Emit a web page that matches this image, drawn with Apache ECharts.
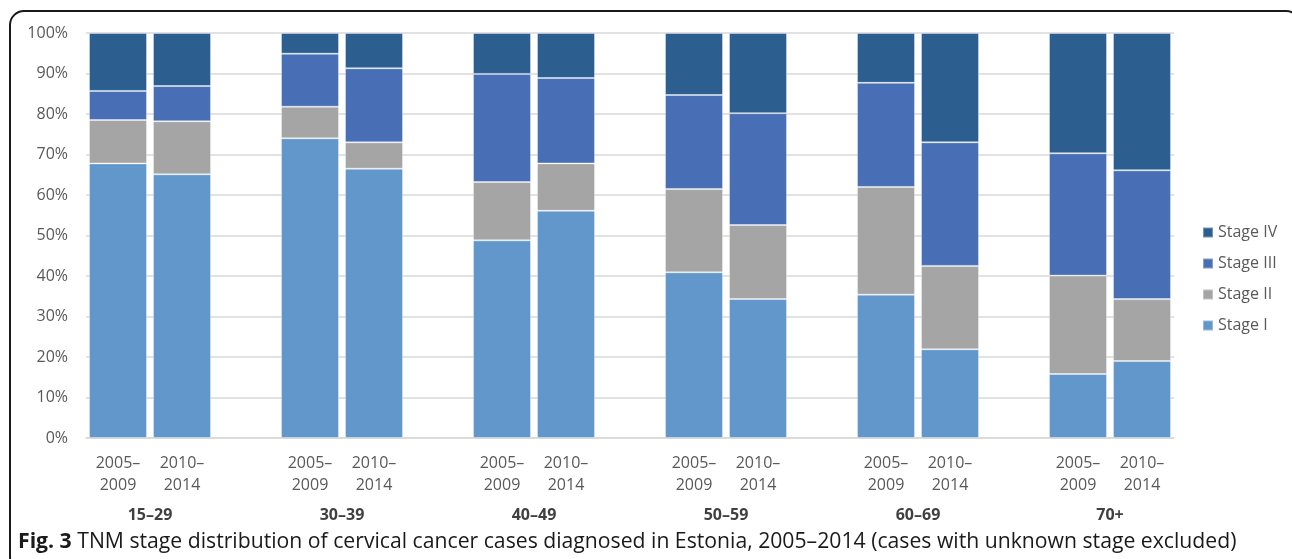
<!DOCTYPE html>
<html>
<head>
<meta charset="utf-8">
<script src="https://cdn.jsdelivr.net/npm/echarts@6/dist/echarts.min.js"></script>
<style>
  html, body { margin: 0; padding: 0; background: #ffffff; }
  #chart { width: 1292px; height: 559px; }
</style>
</head>
<body>
<div id="chart"></div>
<script>
// Age groups and diagnosis periods (two-level category axis)
const ageGroups = ['15–29', '30–39', '40–49', '50–59', '60–69', '70+'];
const periods = ['2005–\n2009', '2010–\n2014'];

// Share of cases by TNM stage (%), one value per age group × period
const stageI   = [67.8, 65.1, 74.0, 66.5, 48.8, 56.1, 40.9, 34.3, 35.4, 21.9, 15.8, 19.0];
const stageII  = [10.7, 13.1,  7.8,  6.5, 14.4, 11.7, 20.6, 18.3, 26.6, 20.6, 24.3, 15.3];
const stageIII = [ 7.2,  8.7, 13.1, 18.3, 26.7, 21.1, 23.2, 27.6, 25.7, 30.5, 30.2, 31.8];
const stageIV  = [14.3, 13.1,  5.1,  8.7, 10.1, 11.1, 15.3, 19.8, 12.3, 27.0, 29.7, 33.9];

const yTicks = { min: 0, max: 100, interval: 10 };

// Lay the bars out as slots: two periods per age group, then an empty spacer slot
const slots = [];
const groupCenters = [];
ageGroups.forEach((g, gi) => {
  groupCenters.push(slots.length + 1);
  periods.forEach(p => slots.push(p));
  if (gi < ageGroups.length - 1) slots.push('');
});
function spread(values) {
  const out = [];
  ageGroups.forEach((g, gi) => {
    periods.forEach((p, pi) => out.push(values[gi * periods.length + pi]));
    if (gi < ageGroups.length - 1) out.push('-');
  });
  return out;
}

const colors = {
  'Stage I': '#6197CB',
  'Stage II': '#A5A5A5',
  'Stage III': '#486EB5',
  'Stage IV': '#2C5F8F'
};

const stages = [
  ['Stage I', stageI],
  ['Stage II', stageII],
  ['Stage III', stageIII],
  ['Stage IV', stageIV]
];

const labelColor = '#595959';
const fontFamily = '"Open Sans", "DejaVu Sans", sans-serif';

const chart = echarts.init(document.getElementById('chart'), null, { renderer: 'canvas' });

chart.setOption({
  backgroundColor: '#ffffff',
  animation: false,
  grid: { left: 86, right: 118, top: 33, bottom: 121, containLabel: false },
  legend: {
    orient: 'vertical',
    left: 1197,
    top: 219,
    itemWidth: 10,
    itemHeight: 10,
    itemGap: 14,
    icon: 'rect',
    data: ['Stage IV', 'Stage III', 'Stage II', 'Stage I'],
    textStyle: { color: labelColor, fontSize: 16, fontFamily: fontFamily, lineHeight: 17 }
  },
  xAxis: [
    {
      type: 'category',
      data: slots,
      axisLine: { show: true, lineStyle: { color: '#D9D9D9', width: 1.5 } },
      axisTick: { show: false },
      axisLabel: {
        interval: 0,
        color: labelColor,
        fontSize: 16,
        fontFamily: fontFamily,
        lineHeight: 22,
        margin: 14
      }
    },
    {
      type: 'value',
      position: 'bottom',
      min: 0,
      max: slots.length,
      axisLine: { show: false },
      axisTick: { show: false },
      splitLine: { show: false },
      axisLabel: {
        customValues: groupCenters,
        formatter: v => ageGroups[groupCenters.indexOf(v)] || '',
        color: '#404040',
        fontSize: 16,
        fontWeight: 'bold',
        fontFamily: fontFamily,
        margin: 69
      }
    }
  ],
  yAxis: {
    type: 'value',
    min: yTicks.min,
    max: yTicks.max,
    interval: yTicks.interval,
    axisLine: { show: false },
    axisTick: { show: false },
    splitLine: { lineStyle: { color: '#D9D9D9', width: 1.5 } },
    axisLabel: {
      formatter: '{value}%',
      color: labelColor,
      fontSize: 16,
      fontFamily: fontFamily,
      margin: 18
    }
  },
  series: stages.map(([name, values]) => ({
    name: name,
    type: 'bar',
    stack: 'stage',
    xAxisIndex: 0,
    barWidth: 58,
    itemStyle: {
      color: colors[name],
      borderColor: 'rgba(255,255,255,0.35)',
      borderWidth: 1
    },
    emphasis: { disabled: true },
    data: spread(values)
  })),
  graphic: [
    {
      type: 'rect',
      silent: true,
      shape: { x: 10, y: 11, width: 1290, height: 560, r: 14 },
      style: { fill: 'none', stroke: '#1a1a1a', lineWidth: 2 }
    },
    {
      type: 'text',
      left: 18,
      top: 531,
      style: {
        text: '{b|Fig. 3} TNM stage distribution of cervical cancer cases diagnosed in Estonia, 2005–2014 (cases with unknown stage excluded)',
        fontSize: 21.2,
        fontFamily: fontFamily,
        fill: '#1a1a1a',
        rich: {
          b: { fontSize: 21.2, fontWeight: 'bold', fontFamily: fontFamily, fill: '#1a1a1a' }
        }
      }
    }
  ]
});
</script>
</body>
</html>
